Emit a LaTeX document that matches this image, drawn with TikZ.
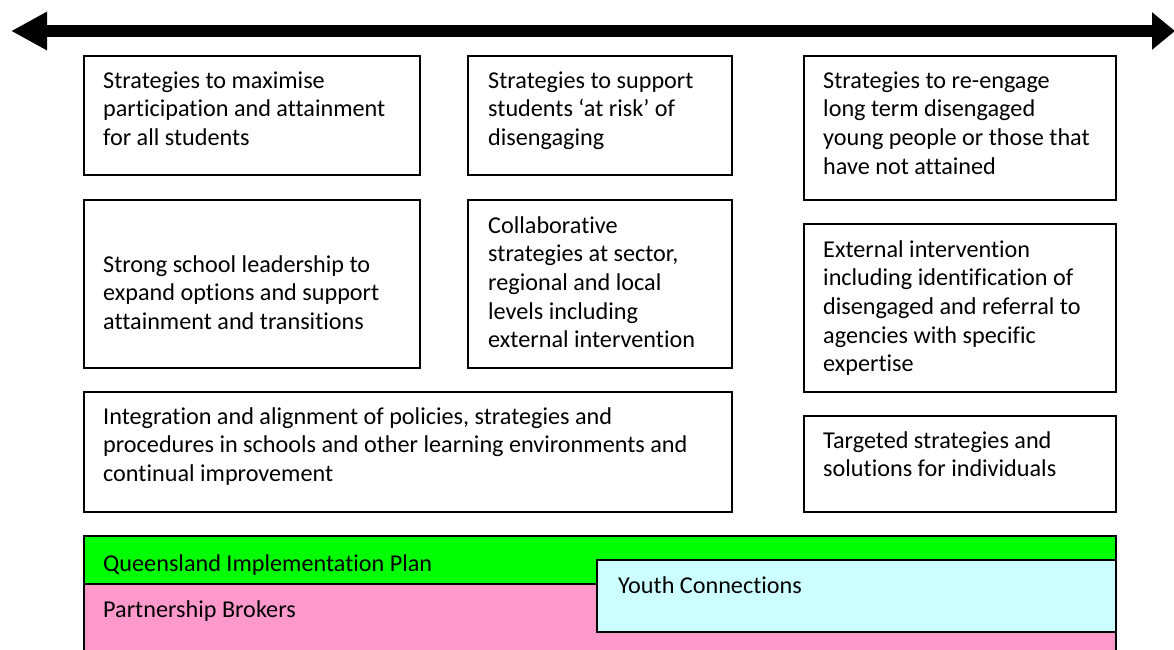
\documentclass[tikz,border=0pt]{standalone}
\usepackage{fontspec}
\setmainfont[Ligatures=NoCommon]{Carlito}
\usetikzlibrary{arrows.meta}
\definecolor{qgreen}{HTML}{00FF00}
\definecolor{ppink}{HTML}{FF99CC}
\definecolor{ycyan}{HTML}{CCFFFF}
\begin{document}
\begin{tikzpicture}[x=1pt,y=-1pt,
  frame/.style={draw=black, line width=1.6pt, anchor=north west, inner sep=0pt},
  txt/.style={anchor=base west, align=left, inner sep=0pt, text=black,
              font=\fontsize{24.2}{28.7}\selectfont}]
\clip (0,0) rectangle (1174,649);
\fill[white] (0,0) rectangle (1174,649);
% arrow
\coordinate (L) at (11,31);
\coordinate (R) at (1175,31);
\draw[line width=12pt, {Triangle[length=36pt,width=36pt]}-{Triangle[length=23pt,width=36pt]}] (L) -- (R);
% boxes
\node[frame, minimum width=336pt, minimum height=119pt] (b1) at (83,55) {};
\node[frame, minimum width=264pt, minimum height=119pt] (b2) at (467,55) {};
\node[frame, minimum width=312pt, minimum height=144pt] (b3) at (803,55) {};
\node[frame, minimum width=336pt, minimum height=168pt] (b4) at (83,199) {};
\node[frame, minimum width=264pt, minimum height=168pt] (b5) at (467,199) {};
\node[frame, minimum width=312pt, minimum height=168pt] (b6) at (803,223) {};
\node[frame, minimum width=648pt, minimum height=120pt] (b7) at (83,391) {};
\node[frame, minimum width=312pt, minimum height=96pt] (b8) at (803,415) {};
% texts (anchor = baseline of last line)
\node[txt] (t1) at (103,145.4) {Strategies to maximise\\participation and attainment\\for all students};
\node[txt] (t2) at (488,145.4) {Strategies to support\\students ‘at risk’ of\\disengaging};
\node[txt] (t3) at (823,174.1) {Strategies to re-engage\\long term disengaged\\young people or those that\\have not attained};
\node[txt] (t4) at (103,329.4) {Strong school leadership to\\expand options and support\\attainment and transitions};
\node[txt] (t5) at (488,347.8) {Collaborative\\strategies at sector,\\regional and local\\levels including\\external intervention};
\node[txt] (t6) at (823,371.8) {External intervention\\including identification of\\disengaged and referral to\\agencies with specific\\expertise};
\node[txt] (t7) at (103,481.4) {Integration and alignment of policies, strategies and\\procedures in schools and other learning environments and\\continual improvement};
\node[txt] (t8) at (823,476.7) {Targeted strategies and\\solutions for individuals};
% bottom bands
\node[frame, fill=ppink, minimum width=1032pt, minimum height=90pt] (pb) at (83,583) {};
\node[frame, fill=qgreen, minimum width=1032pt, minimum height=48pt] (qp) at (83,535) {};
\node[frame, fill=ycyan, minimum width=519pt, minimum height=72pt] (yc) at (596,559) {};
\node[txt] (tq) at (103,571) {Queensland Implementation Plan};
\node[txt] (tp) at (103,617) {Partnership Brokers};
\node[txt] (ty) at (618,593) {Youth Connections};
\end{tikzpicture}
\end{document}
